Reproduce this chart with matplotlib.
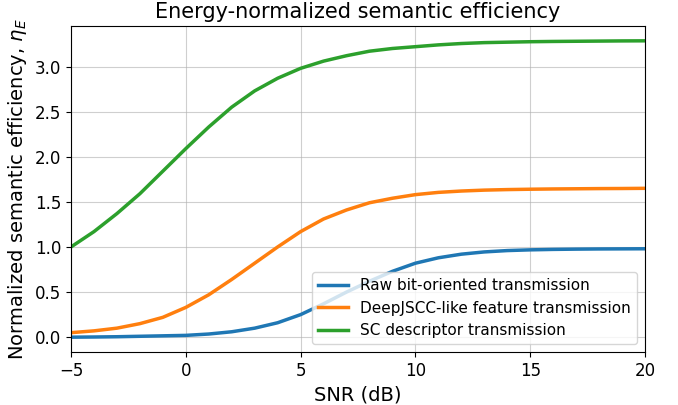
import matplotlib
matplotlib.use("Agg")
import matplotlib.pyplot as plt
import numpy as np

snr_db = list(range(-5, 21))
raw_bit = [0.0, 0.002, 0.005, 0.01, 0.015, 0.02, 0.035, 0.06, 0.10, 0.16, 0.25,
           0.37, 0.50, 0.62, 0.73, 0.82, 0.88, 0.92, 0.945, 0.96, 0.968,
           0.973, 0.976, 0.978, 0.979, 0.98]
deepjscc = [0.05, 0.07, 0.10, 0.15, 0.22, 0.33, 0.47, 0.64, 0.82, 1.00, 1.17,
            1.31, 1.41, 1.49, 1.54, 1.58, 1.605, 1.62, 1.63, 1.636, 1.64,
            1.643, 1.645, 1.647, 1.648, 1.65]
sc_desc = [1.00, 1.17, 1.37, 1.59, 1.84, 2.09, 2.33, 2.55, 2.73, 2.87, 2.98,
           3.06, 3.12, 3.17, 3.20, 3.22, 3.24, 3.255, 3.265, 3.27, 3.275,
           3.278, 3.28, 3.282, 3.284, 3.285]

labels = ["Raw bit-oriented transmission",
          "DeepJSCC-like feature transmission",
          "SC descriptor transmission"]

fig = plt.figure(figsize=(6.78, 4.05), dpi=100)
ax = fig.add_axes([71/678, 1-352/405, (645-71)/678, (352-26)/405])
ax.plot(snr_db, raw_bit, color="#1f77b4", lw=2.5, label=labels[0])
ax.plot(snr_db, deepjscc, color="#ff7f0e", lw=2.5, label=labels[1])
ax.plot(snr_db, sc_desc, color="#2ca02c", lw=2.5, label=labels[2])
ax.set_xlim(-5, 20)
ax.set_xticks([-5, 0, 5, 10, 15, 20])
ax.set_yticks([0.0, 0.5, 1.0, 1.5, 2.0, 2.5, 3.0])
ax.grid(True, alpha=0.6)
ax.tick_params(labelsize=12)
ax.set_xlabel("SNR (dB)", fontsize=14)
ax.set_ylabel(r"Normalized semantic efficiency, $\eta_E$", fontsize=14)
ax.set_title("Energy-normalized semantic efficiency", fontsize=15)
ax.legend(loc="lower right", fontsize=11)
fig.savefig("out.png", dpi=100)
